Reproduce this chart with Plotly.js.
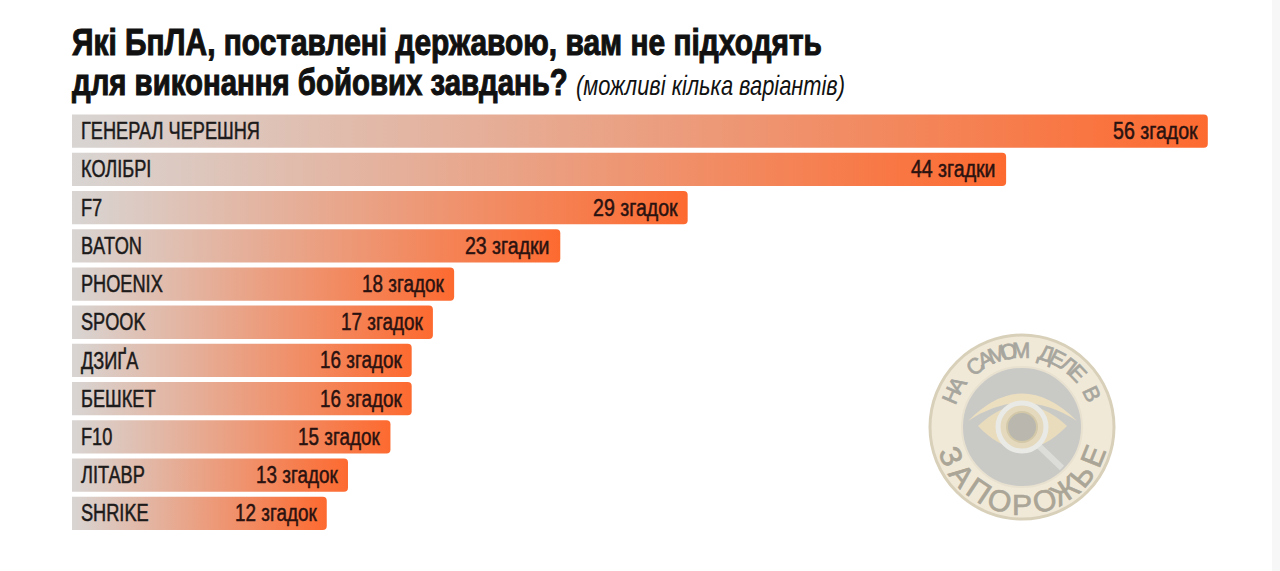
<!DOCTYPE html>
<html>
<head>
<meta charset="utf-8">
<script src="https://cdn.plot.ly/plotly-3.0.1.min.js"></script>
<style>
  html, body { margin: 0; padding: 0; background: #fff; }
  #chart { width: 1280px; height: 571px; }
</style>
</head>
<body>
<div id="chart"></div>
<script>
const W = 1280, H = 571;

const categories = ['ГЕНЕРАЛ ЧЕРЕШНЯ', 'КОЛІБРІ', 'F7', 'BATON', 'PHOENIX', 'SPOOK',
  'ДЗИҐА', 'БЕШКЕТ', 'F10', 'ЛІТАВР', 'SHRIKE'];
const mentions = [56, 44, 29, 23, 18, 17, 16, 16, 15, 13, 12];
const mentionWords = ['згадок', 'згадки', 'згадок', 'згадки', 'згадок', 'згадок',
  'згадок', 'згадок', 'згадок', 'згадок', 'згадок'];
// the source squeezes the top bar: it says 56 but is only drawn about 53.5 long
const barLengths = [53.5, 44, 29, 23, 18, 17, 16, 16, 15, 13, 12];

const TITLE_1 = 'Які БпЛА, поставлені державою, вам не підходять';
const TITLE_2 = 'для виконання бойових завдань?';
const SUBTITLE = '(можливі кілька варіантів)';

const FONT = '"Liberation Sans", sans-serif';
const INK = '#1c1a1a';

// page pixels -> paper fractions (margins are 0, so paper is the whole page)
const X = px => px / W;
const Y = py => 1 - py / H;
const P = (cmd) => cmd.replace(/(-?[\d.]+),(-?[\d.]+)/g, (m, a, b) => X(+a) + ',' + Y(+b));

function circle(cx, cy, r, fill, line, width) {
  return {
    type: 'circle', xref: 'paper', yref: 'paper',
    x0: X(cx - r), x1: X(cx + r), y0: Y(cy + r), y1: Y(cy - r),
    fillcolor: fill, line: { color: line || fill, width: width === undefined ? 1 : width },
  };
}
function path(d, fill, line, width) {
  return {
    type: 'path', xref: 'paper', yref: 'paper', path: P(d),
    fillcolor: fill, line: { color: line || 'rgba(0,0,0,0)', width: width || 0 },
  };
}

/* ── stamp in the lower right ───────────────────────────────────────────── */
const SX = 1022, SY = 427;
const stampShapes = [
  circle(SX, SY, 92, '#f1e9d8', '#d9d0ba', 3),
  circle(SX, SY, 60, '#c9c9c6', '#e8e1d0', 2),
  path('M968,421 Q1022,366 1077,421 Q1022,385 968,421 Z', '#ecdfc0'),
  path('M978,426 Q1022,384 1067,426 Q1022,472 978,426 Z', '#e9dcbc'),
  path('M1039,446 L1062,468', 'rgba(0,0,0,0)', '#dcdcd8', 6),
  circle(SX, SY, 24, '#e4d9bd', '#e9e9e6', 5),
  circle(SX, SY, 15, '#b9b7ae', '#d3c8a8', 2),
];

function arcLetters(text, r, from, to, size, color, bottom) {
  const n = text.length;
  const out = [];
  for (let i = 0; i < n; i++) {
    if (text[i] === ' ') continue;
    const deg = from + (to - from) * i / (n - 1);
    const a = deg * Math.PI / 180;
    out.push({
      xref: 'paper', yref: 'paper',
      x: X(SX + Math.sin(a) * r),
      y: Y(SY + (bottom ? Math.cos(a) : -Math.cos(a)) * r),
      xanchor: 'center', yanchor: 'middle', showarrow: false, text: text[i],
      textangle: bottom ? -deg : deg,
      font: { family: FONT, size, color },
    });
  }
  return out;
}

/* ── text ───────────────────────────────────────────────────────────────── */
const rowLabels = categories.map(c => ({
  xref: 'x', yref: 'y', x: 0, y: c, xanchor: 'left', yanchor: 'middle', xshift: 7,
  showarrow: false, text: c, font: { family: FONT, size: 23, color: INK },
}));
const valueTexts = mentions.map((m, i) => m + ' ' + mentionWords[i]);
const valueLabels = categories.map((c, i) => ({
  xref: 'x', yref: 'y', x: barLengths[i], y: c, xanchor: 'right', yanchor: 'middle', xshift: -8,
  showarrow: false, text: valueTexts[i],
  font: { family: FONT, size: 23, color: '#2a1210' },
}));
const titleLine2 = {
  xref: 'paper', yref: 'paper', x: X(70), y: Y(83), xanchor: 'left', yanchor: 'middle',
  showarrow: false,
  text: TITLE_2 + ' <span style="font-size:27.5px;font-weight:normal;font-style:italic;stroke-width:0">' + SUBTITLE + '</span>',
  font: { family: FONT, size: 37, weight: 'bold', color: '#111' },
};

const trace = {
  type: 'bar', orientation: 'h', x: barLengths, y: categories,
  marker: { color: '#fb6a33' }, hoverinfo: 'skip',
};

const layout = {
  width: W, height: H,
  paper_bgcolor: '#ffffff', plot_bgcolor: 'rgba(0,0,0,0)',
  margin: { l: 0, r: 0, t: 0, b: 0 },
  showlegend: false,
  title: {
    text: TITLE_1,
    x: X(72), xanchor: 'left', xref: 'container',
    y: Y(42), yanchor: 'middle', yref: 'container',
    font: { family: FONT, size: 37, weight: 'bold', color: '#111' },
  },
  xaxis: { domain: [X(72), 1], range: [0, (W - 72) / 21.23], visible: false, fixedrange: true },
  yaxis: {
    domain: [Y(532.5), Y(112)], autorange: 'reversed', visible: false, fixedrange: true,
    type: 'category', categoryorder: 'array', categoryarray: categories,
  },
  bargap: 0.13,
  barcornerradius: 4,
  shapes: stampShapes.concat([
    { type: 'rect', xref: 'paper', yref: 'paper', x0: X(1272), x1: 1, y0: 0, y1: 1,
      fillcolor: '#f7f7f7', line: { width: 0 }, layer: 'below' },
  ]),
  annotations: rowLabels.concat(valueLabels, [titleLine2],
    arcLetters('НА САМОМ ДЕЛЕ В', 77, -66, 65, 22, '#a7a69e', false),
    arcLetters('ЗАПОРОЖЬЕ', 77, -68, 68, 30, '#aaa596', true)),
};

// Plotly has no gradient for bars, so the fill is swapped on the drawn paths
function paintBars(gd) {
  const svg = gd.querySelector('.main-svg');
  const NS = 'http://www.w3.org/2000/svg';
  const g = document.createElementNS(NS, 'linearGradient');
  g.setAttribute('id', 'barFade');
  [['0%', '#d8d5d3'], ['100%', '#fd6a30']].forEach(s => {
    const st = document.createElementNS(NS, 'stop');
    st.setAttribute('offset', s[0]);
    st.setAttribute('stop-color', s[1]);
    g.appendChild(st);
  });
  svg.querySelector('defs').appendChild(g);
  gd.querySelectorAll('.bars .point path').forEach(p => { p.style.fill = 'url(#barFade)'; });
}

// no narrow font is installed, so condense the text to the widths in the picture
function fit(el, width, align, stroke) {
  const before = el.getBBox();
  el.setAttribute('textLength', width);
  el.setAttribute('lengthAdjust', 'spacingAndGlyphs');
  const after = el.getBBox();
  const shift = align === 'right' ? (before.x + before.width) - (after.x + after.width) : before.x - after.x;
  el.setAttribute('x', (parseFloat(el.getAttribute('x')) || 0) + shift);
  thicken(el, stroke);
}
function thicken(el, stroke) {
  el.style.stroke = el.style.fill;
  el.style.strokeWidth = stroke;
}

function condense(gd) {
  const exact = { [TITLE_1]: 750, [TITLE_2 + ' ' + SUBTITLE]: 773 };
  gd.querySelectorAll('.gtitle, .annotation-text').forEach(el => {
    const t = el.textContent;
    const len = el.getComputedTextLength();
    if (exact[t]) fit(el, exact[t], 'left', '1.1px');
    else if (categories.includes(t)) fit(el, len * 0.79, 'left', '0.5px');
    else if (valueTexts.includes(t)) fit(el, len * (t[0] === '1' ? 0.82 : 0.85), 'right', '0.5px');
    else thicken(el, '0.7px');
  });
}

const gd = document.getElementById('chart');
Plotly.newPlot(gd, [trace], layout, { displayModeBar: false, staticPlot: true }).then(() => {
  paintBars(gd);
  condense(gd);
});
</script>
</body>
</html>
